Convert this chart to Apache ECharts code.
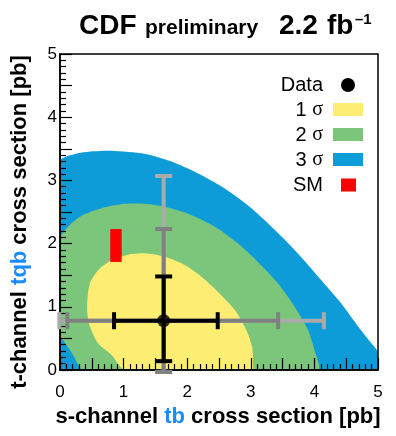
<!DOCTYPE html>
<html>
<head>
<meta charset="utf-8">
<script src="https://cdn.jsdelivr.net/npm/echarts@6/dist/echarts.min.js"></script>
<style>
  html, body { margin: 0; padding: 0; background: #fff; }
  #chart { width: 396px; height: 436px; }
</style>
</head>
<body>
<div id="chart"></div>
<script>
// tick labels shown on both axes
const tickLabels = [0, 1, 2, 3, 4, 5];

// contour outlines (s-channel, t-channel)
const sigma3 = [[0, 0], [0, 3.30], [0.25, 3.42], [0.51, 3.46], [0.81, 3.47], [1.33, 3.42], [1.80, 3.28],
  [2.22, 3.085], [2.59, 2.87], [3.01, 2.56], [3.38, 2.215], [3.74, 1.845], [4.11, 1.42], [4.42, 1.055],
  [4.69, 0.686], [4.90, 0.42], [5.0, 0.28], [5.0, 0]];
const sigma2 = [[0, 0.55], [0, 2.08], [0.13, 2.27], [0.34, 2.44], [0.65, 2.56], [1.02, 2.63], [1.33, 2.63],
  [1.70, 2.57], [2.07, 2.45], [2.43, 2.27], [2.80, 2.0], [3.11, 1.71], [3.43, 1.37], [3.69, 1.0],
  [3.90, 0.63], [4.00, 0.32], [4.05, 0], [0.37, 0], [0.2, 0.25], [0.05, 0.47]];
const sigma1 = [[0.43, 0.90], [0.43, 1.11], [0.47, 1.37], [0.60, 1.58], [0.81, 1.74], [1.07, 1.825],
  [1.33, 1.846], [1.65, 1.79], [1.96, 1.66], [2.22, 1.48], [2.48, 1.24], [2.75, 0.95], [2.93, 0.63],
  [3.02, 0.37], [3.035, 0.1], [3.02, 0], [1.02, 0], [0.81, 0.24], [0.60, 0.42], [0.47, 0.69]];

// measured point and its 1/2/3 sigma ranges
const dataPoint = [1.63, 0.78];
const xErr1 = [0.85, 2.48];
const yErr1 = [0.14, 1.48];
const xErr2 = [0.115, 3.43];
const yErr2 = [-0.03, 2.23];
const xErr3 = [-0.01, 4.15];
const yErr3 = [-0.03, 3.07];

// standard model band
const smX = [0.79, 0.97];
const smY = [1.71, 2.23];

const legendNames = ['Data', '1 {s|σ}', '2 {s|σ}', '3 {s|σ}', 'SM'];

const yellow = '#fdee73';
const green = '#7bc67b';
const blue = '#0e9cd8';
const red = '#ff0000';
const titleBlue = '#1a8cff';
const font = 'Liberation Sans, Arial, sans-serif';

function contour(points, color) {
  return {
    type: 'custom',
    clip: true,
    z: 2,
    data: [0],
    renderItem: function (params, api) {
      return {
        type: 'polygon',
        shape: { points: points.map(p => api.coord(p)), smooth: 0.25 },
        style: { fill: color }
      };
    }
  };
}

function errorBars(xr, yr, color, z) {
  return {
    type: 'custom',
    clip: false,
    z: z,
    data: [0],
    renderItem: function (params, api) {
      const cap = 8.5;
      const st = { stroke: color, lineWidth: 4 };
      const l = api.coord([xr[0], dataPoint[1]]);
      const r = api.coord([xr[1], dataPoint[1]]);
      const b = api.coord([dataPoint[0], yr[0]]);
      const t = api.coord([dataPoint[0], yr[1]]);
      return {
        type: 'group',
        children: [
          { type: 'line', shape: { x1: l[0], y1: l[1], x2: r[0], y2: r[1] }, style: st },
          { type: 'line', shape: { x1: l[0], y1: l[1] - cap, x2: l[0], y2: l[1] + cap }, style: st },
          { type: 'line', shape: { x1: r[0], y1: r[1] - cap, x2: r[0], y2: r[1] + cap }, style: st },
          { type: 'line', shape: { x1: b[0], y1: b[1], x2: t[0], y2: t[1] }, style: st },
          { type: 'line', shape: { x1: b[0] - cap, y1: b[1], x2: b[0] + cap, y2: b[1] }, style: st },
          { type: 'line', shape: { x1: t[0] - cap, y1: t[1], x2: t[0] + cap, y2: t[1] }, style: st }
        ]
      };
    }
  };
}

function axis(labelExtra) {
  return {
    type: 'value',
    min: 0,
    max: 5,
    interval: 0.5,
    z: 10,
    axisLine: { show: true, lineStyle: { color: '#000', width: 1.5 } },
    axisTick: { show: true, inside: true, length: 12, lineStyle: { color: '#000', width: 1.2 } },
    minorTick: { show: true, splitNumber: 5, length: 6, lineStyle: { color: '#000', width: 1.2 } },
    splitLine: { show: false },
    axisLabel: Object.assign({
      color: '#000', fontSize: 17, fontFamily: font,
      formatter: v => tickLabels.includes(v) ? String(v) : ''
    }, labelExtra)
  };
}

const chart = echarts.init(document.getElementById('chart'));

const legendRows = [85, 110, 135, 160, 185];
const legendGraphics = legendNames.map((name, i) => ({
  type: 'text', x: 323, y: legendRows[i], z: 50,
  style: {
    text: name, fill: '#000', fontSize: 20, fontFamily: font,
    align: 'right', verticalAlign: 'middle',
    rich: { s: { fontSize: 20, fontFamily: 'Liberation Serif, serif' } }
  }
}));
[yellow, green, blue].forEach((c, i) => {
  legendGraphics.push({ type: 'rect', z: 50, shape: { x: 333, y: legendRows[i + 1] - 7, width: 30, height: 13 }, style: { fill: c } });
});
legendGraphics.push({ type: 'rect', z: 50, shape: { x: 341, y: legendRows[4] - 6.5, width: 15, height: 13 }, style: { fill: red } });
legendGraphics.push({ type: 'circle', z: 50, shape: { cx: 348, cy: legendRows[0], r: 7 }, style: { fill: '#000' } });

const option = {
  animation: false,
  backgroundColor: '#fff',
  grid: { left: 60, right: 18, top: 54, bottom: 66, show: true, borderColor: '#000', borderWidth: 1.5, z: 10 },
  xAxis: axis({ margin: 14 }),
  yAxis: axis({ margin: 3, padding: [0, 0, 5, 0] }),
  graphic: legendGraphics.concat([
    { type: 'text', x: 79, y: 26, style: { text: 'CDF', fontSize: 28, fontWeight: 'bold', fontFamily: font, fill: '#000', verticalAlign: 'middle' } },
    { type: 'text', x: 145, y: 28, style: { text: 'preliminary', fontSize: 21, fontWeight: 'bold', fontFamily: font, fill: '#000', verticalAlign: 'middle' } },
    { type: 'text', x: 279, y: 26, style: { text: '2.2', fontSize: 28, fontWeight: 'bold', fontFamily: font, fill: '#000', verticalAlign: 'middle' } },
    { type: 'text', x: 327, y: 26, style: { text: 'fb', fontSize: 28, fontWeight: 'bold', fontFamily: font, fill: '#000', verticalAlign: 'middle' } },
    { type: 'text', x: 355, y: 20, style: { text: '\u20131', fontSize: 15, fontWeight: 'bold', fontFamily: font, fill: '#000', verticalAlign: 'middle' } },
    { type: 'text', x: 218, y: 417, style: {
      text: '{k|s-channel }{b|tb}{k| cross section [pb]}', align: 'center', verticalAlign: 'middle',
      rich: {
        k: { fontSize: 22, fontWeight: 'bold', fontFamily: font, fill: '#000' },
        b: { fontSize: 22, fontWeight: 'bold', fontFamily: font, fill: titleBlue }
      } } },
    { type: 'text', x: 20, y: 222, rotation: Math.PI / 2, style: {
      text: '{k|t-channel }{b|tqb}{k| cross section [pb]}', align: 'center', verticalAlign: 'middle',
      rich: {
        k: { fontSize: 22, fontWeight: 'bold', fontFamily: font, fill: '#000' },
        b: { fontSize: 22, fontWeight: 'bold', fontFamily: font, fill: titleBlue }
      } } }
  ]),
  series: [
    contour(sigma3, blue),
    contour(sigma2, green),
    contour(sigma1, yellow),
    {
      type: 'custom',
      clip: true,
      z: 3,
      data: [0],
      renderItem: function (params, api) {
        const a = api.coord([smX[0], smY[1]]);
        const b = api.coord([smX[1], smY[0]]);
        return { type: 'rect', shape: { x: a[0], y: a[1], width: b[0] - a[0], height: b[1] - a[1] }, style: { fill: red } };
      }
    },
    errorBars(xErr3, yErr3, '#aaaaaa', 20),
    errorBars(xErr2, yErr2, '#808080', 21),
    errorBars(xErr1, yErr1, '#000000', 22),
    {
      type: 'scatter',
      z: 23,
      symbol: 'circle',
      symbolSize: 13,
      itemStyle: { color: '#000' },
      data: [dataPoint]
    }
  ]
};
chart.setOption(option);
</script>
</body>
</html>
